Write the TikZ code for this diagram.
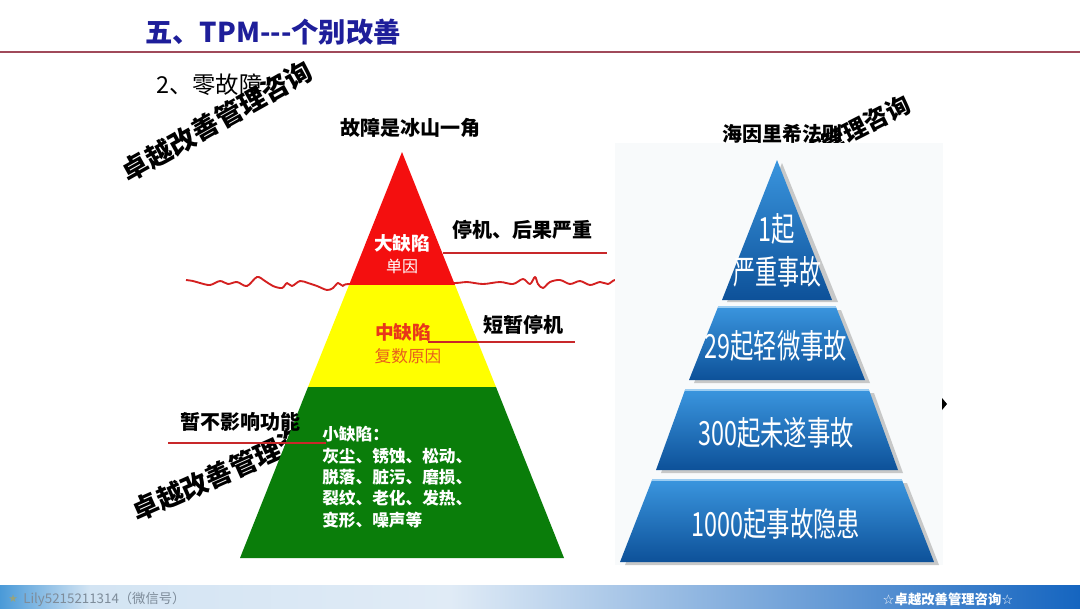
\documentclass[tikz,border=0pt]{standalone}
\usepackage{fontspec}
\setmainfont{Noto Sans CJK SC}
\newfontfamily\dejavu{DejaVu Sans}
\definecolor{titleblue}{HTML}{1E1E9A}
\definecolor{rulered}{HTML}{A04A5A}
\definecolor{wavered}{HTML}{D42020}
\definecolor{lblred}{HTML}{C8282A}
\definecolor{icered}{HTML}{F40F0F}
\definecolor{iceyellow}{HTML}{FFFF00}
\definecolor{icegreen}{HTML}{0A7D0A}
\definecolor{midred}{HTML}{E8361A}
\definecolor{midorange}{HTML}{E8601C}
\definecolor{tiertop}{HTML}{3A95DE}
\definecolor{tierbot}{HTML}{0D5199}
\definecolor{tierhi}{HTML}{9CCDF2}
\definecolor{boxbg}{HTML}{F8FAFB}
\definecolor{footA}{HTML}{4A9AD8}
\definecolor{footB}{HTML}{D3E4F3}
\definecolor{footC}{HTML}{E0EBF6}
\definecolor{footD}{HTML}{1565C0}
\definecolor{footgrey}{HTML}{7E8C9A}
\newcommand\cond[1]{\scalebox{0.7}[1]{#1}}
\tikzset{
  lbl/.style={font=\bfseries\fontsize{15}{18}\selectfont, inner sep=0pt},
  wm/.style={font=\bfseries\fontsize{20}{24}\selectfont, inner sep=0pt},
  tiertxt/.style={text=white, font=\fontsize{25}{28}\selectfont, inner sep=0pt},
  callout/.style={draw=lblred, line width=1.3pt},
  tier/.style={top color=tiertop, bottom color=tierbot},
  tiershadow/.style={fill=black!45, opacity=0.45},
  tierhigh/.style={draw=tierhi, line width=1pt},
}
\begin{document}
\begin{tikzpicture}[x=0.75pt,y=-0.75pt]
\useasboundingbox (0,0) rectangle (1080,608);
\fill[white] (0,0) rectangle (1080,608);

% title and rule
\node[font=\bfseries\fontsize{20.5}{24}\selectfont, text=titleblue, inner sep=0pt] (title) at (273,32) {五、TPM-{}-{}-个别改善};
\coordinate (ruleL) at (0,52);
\coordinate (ruleR) at (1080,52);
\draw[rulered, line width=1.1pt] (ruleL) -- (ruleR);

% subtitle and watermark 1
\node[anchor=west, font=\fontsize{17.5}{20}\selectfont, inner sep=0pt] (sub) at (156,85) {2、零故障};
\node[wm, rotate=29.3] (wm1) at (217,121) {卓越改善管理咨询};

% left caption
\node[lbl] (cap1) at (410,128) {故障是冰山一角};

% watermark 2 (behind pyramid)
\node[wm, rotate=24] (wm2) at (231,469) {卓越改善管理咨询};

% wavy water line
\draw[wavered, line width=1.4pt, line join=round] plot[smooth, tension=0.55] coordinates {
(186,280) (193,281) (200,283) (210,285) (220,281) (228,284) (237,282) (247,286) (257,277) (265,281) (273,286) (282,288) (287,283) (292,286) (300,281) (308,283) (317,286) (327,290) (333,288) (338,283) (343,286) (350,284) (402,285) (455,283) (467,282) (483,284) (500,282) (513,284) (523,279) (530,284) (535,277) (538,284) (543,288) (550,282) (560,280) (570,284) (580,281) (590,285) (600,282) (608,284) (615,280) (622,284) (630,287)};

% iceberg pyramid
\fill[icered] (402,152) -- (455,285) -- (349,285) -- cycle;
\fill[iceyellow] (349,285) -- (455,285) -- (496,387) -- (308,387) -- cycle;
\fill[icegreen] (308,387) -- (496,387) -- (564,558) -- (240,558) -- cycle;

% labels inside pyramid
\node[font=\bfseries\fontsize{14}{17}\selectfont, text=white, inner sep=0pt] (big) at (402,243) {大缺陷};
\node[font=\fontsize{12}{14}\selectfont, text=white, inner sep=0pt] (bigc) at (402,266) {单因};
\node[font=\bfseries\fontsize{14}{17}\selectfont, text=midred, inner sep=0pt] (mid) at (403,332) {中缺陷};
\node[font=\fontsize{12.5}{15}\selectfont, text=midorange, inner sep=0pt] (midc) at (408,356) {复数原因};
\node[anchor=north west, align=left, font=\bfseries\fontsize{12.5}{16.1}\selectfont, text=white, inner sep=0pt] (small) at (322,426) {小缺陷：\\灰尘、锈蚀、松动、\\脱落、脏污、磨损、\\裂纹、老化、发热、\\变形、噪声等};

% callouts
\node[lbl] (l1) at (522,230) {停机、后果严重};
\coordinate (l1a) at (443,253);
\coordinate (l1b) at (607,253);
\draw[callout] (l1a) -- (l1b);
\node[lbl] (l2) at (523,325) {短暂停机};
\coordinate (l2a) at (428,342);
\coordinate (l2b) at (575,342);
\draw[callout] (l2a) -- (l2b);
\node[lbl] (l3) at (240,422) {暂不影响功能};
\coordinate (l3a) at (168,443);
\coordinate (l3b) at (326,443);
\draw[callout] (l3a) -- (l3b);

% right side caption, watermark 3 and picture box
\node[lbl] (cap2) at (782,134) {海因里希法则};
\node[font=\bfseries\fontsize{18}{21}\selectfont, inner sep=0pt, rotate=27] (wm3) at (823,146) {卓越改善管理咨询};
\fill[boxbg] (615,143) rectangle (943,565);

% Heinrich pyramid: shadows
\fill[tiershadow] (782,163) -- (838,302) -- (727,302) -- cycle;
\fill[tiershadow] (723,310) -- (841,310) -- (870,383) -- (694,383) -- cycle;
\fill[tiershadow] (690,393) -- (874,393) -- (903,473) -- (661,473) -- cycle;
\fill[tiershadow] (657,483) -- (907,483) -- (939,565) -- (625,565) -- cycle;
% tiers
\shade[tier] (777,160) -- (832,300) -- (722,300) -- cycle;
\shade[tier] (718,307) -- (836,307) -- (865,380) -- (689,380) -- cycle;
\shade[tier] (685,390) -- (869,390) -- (898,470) -- (656,470) -- cycle;
\shade[tier] (652,480) -- (902,480) -- (934,562) -- (620,562) -- cycle;
\draw[tierhigh] (718,307) -- (836,307);
\draw[tierhigh] (685,390) -- (869,390);
\draw[tierhigh] (652,480) -- (902,480);

\node[tiertxt] (t1a) at (777,229) {\cond{1起}};
\node[tiertxt] (t1b) at (777,272) {\scalebox{0.66}[1]{严重事故}};
\node[tiertxt] (t2) at (776,346) {\cond{29起轻微事故}};
\node[tiertxt] (t3) at (776,433) {\cond{300起未遂事故}};
\node[tiertxt] (t4) at (776,524) {\cond{1000起事故隐患}};

% small black marker
\fill[black] (942,398) -- (947,404) -- (942,410) -- cycle;

% footer
\shade[left color=footA, right color=footB] (0,585) rectangle (90,608);
\shade[left color=footB, right color=footC] (90,585) rectangle (450,608);
\shade[left color=footC, right color=footD] (450,585) rectangle (1080,608);
\node[anchor=west, text=footgrey!80!yellow, font=\dejavu\fontsize{8}{9}\selectfont, inner sep=0pt] (star) at (8,599) {★};
\node[anchor=west, text=footgrey, font=\fontsize{10}{12}\selectfont, inner sep=0pt] (foot1) at (23,599) {Lily5215211314（微信号）};
\node[text=white, font=\bfseries\fontsize{10}{12}\selectfont, inner sep=0pt] (foot2) at (948,599) {{\dejavu ☆}卓越改善管理咨询{\dejavu ☆}};
\end{tikzpicture}
\end{document}
